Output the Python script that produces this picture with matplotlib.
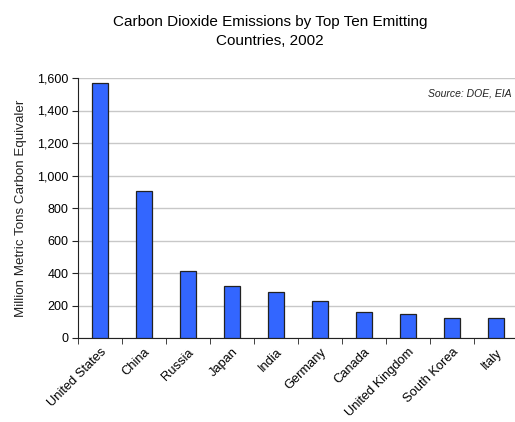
import matplotlib.pyplot as plt
import numpy as np
from matplotlib.ticker import FuncFormatter

# 2002 emissions, million metric tons carbon equivalent
countries = ['United States', 'China', 'Russia', 'Japan', 'India', 'Germany',
             'Canada', 'United Kingdom', 'South Korea', 'Italy']
emissions = [1568, 906, 415, 323, 281, 228, 159, 147, 122, 121]
yticks = [0, 200, 400, 600, 800, 1000, 1200, 1400, 1600]

plt.rcParams['font.family'] = ['Liberation Sans', 'DejaVu Sans']

fig = plt.figure(figsize=(5.15, 4.22), dpi=100)
ax = fig.add_axes([78/515, 1 - 338/422, 440/515, 260/422])

x = np.arange(len(countries))
ax.bar(x, emissions, width=0.38, color='#3366ff', edgecolor='#222222', linewidth=0.9, zorder=3)

ax.set_xlim(-0.5, len(countries) - 0.5)
ax.set_ylim(0, 1600)
ax.set_yticks(yticks)
ax.yaxis.set_major_formatter(FuncFormatter(lambda v, p: f'{int(v):,}'))
ax.grid(axis='y', color='#c8c8c8', linewidth=1, zorder=0)

# category labels at bar centres, tick marks at the boundaries
ax.set_xticks(x)
ax.set_xticklabels(countries, rotation=45, ha='right', rotation_mode='anchor')
ax.set_xticks(np.arange(len(countries) + 1) - 0.5, minor=True)
ax.tick_params(axis='x', which='major', length=0, pad=6, labelsize=9.3)
ax.tick_params(axis='x', which='minor', length=4, color='#222222')
ax.tick_params(axis='y', length=4, color='#222222', labelsize=9, pad=3)

for side in ['top', 'right']:
    ax.spines[side].set_visible(False)
for side in ['left', 'bottom']:
    ax.spines[side].set_color('#222222')

ax.set_ylabel('Million Metric Tons Carbon Equivaler', fontsize=9.6, color='#222222', labelpad=7)
ax.text(0.985, 0.94, 'Source: DOE, EIA', transform=ax.transAxes, ha='right', va='center',
        fontsize=7.5, style='italic', color='#222222')

fig.text(0.524, 0.925, 'Carbon Dioxide Emissions by Top Ten Emitting\nCountries, 2002',
         ha='center', va='center', fontsize=11, linespacing=1.45)

fig.savefig('out.png', dpi=100)
